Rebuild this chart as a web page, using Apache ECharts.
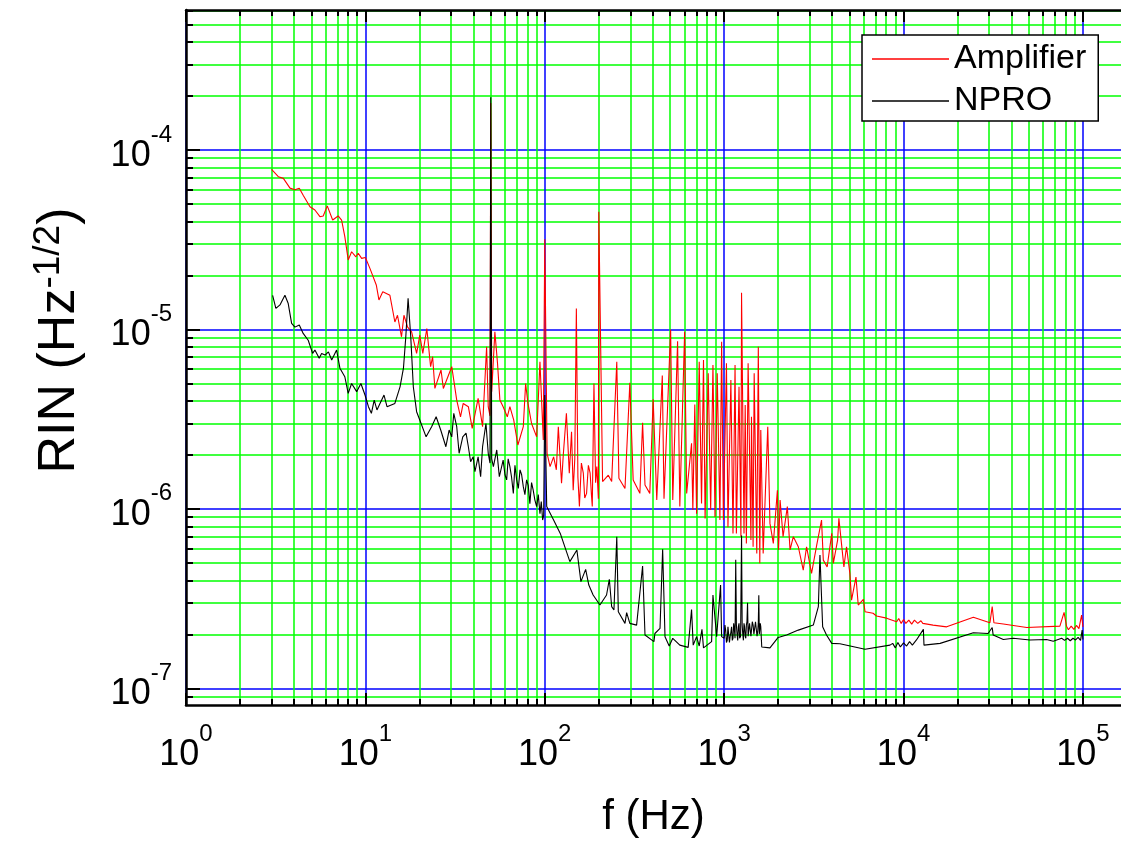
<!DOCTYPE html>
<html><head><meta charset="utf-8">
<script src="https://cdn.jsdelivr.net/npm/echarts@6/dist/echarts.min.js"></script>
<style>html,body{margin:0;padding:0;background:#fff}#c{width:1121px;height:842px}</style>
</head><body><div id="c"></div>
<script>
// ---------------- data ----------------
const xMajorTicks = [1, 10, 100, 1000, 10000, 100000];
const xMinorTicks = [2,3,4,5,6,7,8,9, 20,30,40,50,60,70,80,90, 200,300,400,500,600,700,800,900,
  2000,3000,4000,5000,6000,7000,8000,9000, 20000,30000,40000,50000,60000,70000,80000,90000];
const yMajorTicks = [1e-7, 1e-6, 1e-5, 1e-4];
const yMinorTicks = [9e-8, 2e-7,3e-7,4e-7,5e-7,6e-7,7e-7,8e-7,9e-7, 2e-6,3e-6,4e-6,5e-6,6e-6,7e-6,8e-6,9e-6,
  2e-5,3e-5,4e-5,5e-5,6e-5,7e-5,8e-5,9e-5, 2e-4,3e-4,4e-4,5e-4,6e-4];
const seriesNames = ['Amplifier', 'NPRO'];

const ampFreq = [3.0,3.27,3.49,3.8,4.05,4.28,4.5,4.91,5.23,5.58,5.82,6.13,6.57,7.05,7.37,7.68,8.02,8.38,8.85,9.12,9.53,
  10.0,10.6,11.5,11.9,12.5,13.7,14.6,15.1,15.9,16.4,17.2,18.1,19.3,20.1,20.9,22.0,23.1,23.7,24.4,26.4,27.2,30.3,32.3,33.9,35.1,37.5,39.4,42.5,45.0,47.4,48.4,49.5,
  50.0,50.6,52.7,54.5,56.2,58.6,61.8,63.9,67.1,70.8,75.9,78.2,80.6,84.4,90.1,94.0,98.1,
  100,103,107,112,116,119,124,127,132,137,141,144,147,150,153,156,160,164,167,171,175,179,182,184,188,192,195,199,
  200,210,226,236,252,259,280,298,311,339,351,362,385,402,421,452,462,503,517,550,566,602,618,658,669,686,702,726,748,767,783,815,841,866,889,915,947,968,990,
  1030,1050,1090,1120,1150,1170,1210,1240,1250,1290,1310,1330,1360,1410,1420,1450,1470,1520,1550,1580,1600,1650,1750,1800,1880,1980,2010,2050,2130,2250,2330,2430,2590,2760,2880,3070,3280,3490,3570,3750,3980,4060,4290,4360,4460,4650,4810,5020,5130,5430,5590,5970,6100,6760,7070,8040,9150,9400,9700,
  10000,10300,10700,11100,11500,12000,12500,12800,14600,17400,24500,30300,31200,31900,36000,48600,74400,78500,81000,83000,86000,89000,92000,95000,98300,100000];
const ampRIN = [7.8e-5,7.1e-5,6.95e-5,6.13e-5,6.0e-5,6.13e-5,5.6e-5,4.83e-5,4.63e-5,4.25e-5,4.29e-5,4.88e-5,4.07e-5,4.29e-5,4.07e-5,3.29e-5,2.44e-5,2.71e-5,2.54e-5,2.66e-5,2.49e-5,
  2.52e-5,2.19e-5,1.77e-5,1.46e-5,1.62e-5,1.55e-5,1.10e-5,1.20e-5,9.1e-6,1.20e-5,1.03e-5,9.7e-6,7.35e-6,9.3e-6,7.35e-6,1.01e-5,6.2e-6,7.05e-6,4.69e-6,5.94e-6,4.69e-6,6.2e-6,4.04e-6,3.26e-6,3.87e-6,3.71e-6,2.81e-6,4.13e-6,2.87e-6,8.0e-6,3.71e-6,3.3e-6,
  1.83e-4,4.5e-6,9.7e-6,6.5e-6,4.04e-6,3.71e-6,3.26e-6,3.71e-6,3.13e-6,2.27e-6,2.87e-6,5.0e-6,3.87e-6,2.99e-6,2.52e-6,6.6e-6,2.42e-6,
  3.18e-5,2.04e-6,1.72e-6,1.95e-6,1.65e-6,2.87e-6,1.39e-6,2.04e-6,3.41e-6,1.58e-6,2.69e-6,1.27e-6,1.9e-6,1.31e-5,1.5e-6,1.03e-6,1.8e-6,1.58e-6,1.15e-6,1.22e-6,1.75e-6,1.58e-6,1.2e-6,1.03e-6,5.0e-6,1.4e-6,1.72e-6,1.14e-6,
  4.53e-5,1.42e-6,1.54e-6,1.42e-6,6.6e-6,1.48e-6,1.30e-6,5.04e-6,1.45e-6,1.22e-6,3.02e-6,1.36e-6,1.22e-6,4.08e-6,1.12e-6,5.53e-6,1.14e-6,1.0e-5,1.12e-6,8.6e-6,1.03e-6,9.7e-6,1.22e-6,2.32e-6,9.85e-7,3.82e-6,9.4e-7,6.6e-6,1.07e-6,6.76e-6,8.85e-7,5.7e-6,9.85e-7,6.33e-6,9.0e-7,5.7e-6,8.66e-7,8.53e-6,8.66e-7,
  6.47e-6,7.9e-7,5.23e-6,7.3e-7,6.33e-6,7.3e-7,4.79e-6,7.0e-7,1.6e-5,7.3e-7,3.79e-6,6.42e-7,6.47e-6,6.7e-7,3.26e-6,6.15e-7,5.7e-6,5.64e-7,8.0e-6,4.97e-7,2.75e-6,5.64e-7,2.87e-6,8.3e-7,6.42e-7,1.27e-6,5.9e-7,1.12e-6,7.0e-7,1.03e-6,5.9e-7,7.0e-7,6.15e-7,4.56e-7,6.15e-7,4.37e-7,6.28e-7,8.66e-7,5.18e-7,4.75e-7,7.3e-7,4.97e-7,6.7e-7,8.85e-7,8.98e-7,4.75e-7,6.15e-7,4.37e-7,3.1e-7,4.17e-7,2.91e-7,3.13e-7,2.67e-7,2.62e-7,2.53e-7,2.46e-7,2.35e-7,2.45e-7,2.3e-7,
  2.42e-7,2.3e-7,2.4e-7,2.28e-7,2.4e-7,2.3e-7,2.38e-7,2.3e-7,2.25e-7,2.2e-7,2.49e-7,2.32e-7,2.85e-7,2.32e-7,2.28e-7,2.18e-7,2.22e-7,2.65e-7,2.22e-7,2.12e-7,2.22e-7,2.13e-7,2.24e-7,2.15e-7,2.56e-7,2.2e-7];

const nproFreq = [3.04,3.17,3.34,3.56,3.71,3.88,4.05,4.28,4.5,4.8,5.08,5.23,5.53,5.7,5.96,6.22,6.49,6.91,7.21,7.68,8.02,8.38,8.94,9.44,9.95,
  10.4,10.8,11.2,11.6,12.7,13.2,14.6,15.6,16.3,16.8,17.3,17.9,18.5,19.3,20.1,21.8,23.4,24.8,26.3,28.1,29.3,30.3,31.1,32.3,33.3,34.9,36.4,37.5,38.6,39.9,40.8,42.5,43.9,45.0,47.0,48.4,49.5,
  50.0,50.6,51.7,54.0,55.8,58.6,60.0,61.3,62.5,63.9,65.3,66.8,68.2,69.7,71.2,72.8,74.3,75.9,77.5,79.2,80.9,82.6,84.4,86.2,88.1,90.1,92.0,94.0,95.6,97.3,98.6,
  100,102.5,112,122,138,151,159,169,176,186,203,221,229,236,243,252,257,280,286,298,325,351,362,406,411,439,454,468,494,517,566,630,658,672,702,726,752,767,851,866,908,955,968,
  1000,1010,1020,1030,1040,1050,1060,1070,1080,1090,1100,1110,1120,1130,1140,1150,1160,1170,1180,1190,1200,1210,1220,1235,1250,1260,1270,1280,1290,1300,1310,1320,1330,1340,1350,1360,1370,1385,1400,1410,1420,1435,1450,1465,1480,1495,1510,1525,1540,1550,1560,1570,1580,1590,1600,1620,
  1800,2000,2230,2590,3140,3350,3420,3540,3720,3980,4420,6100,8400,8700,9000,9300,9600,
  10000,10400,10800,11200,11800,12900,13000,16000,24500,29600,31200,31600,36000,40900,50600,62700,68300,76100,79000,82000,85000,88000,91000,94000,97000,99000,100000];
const nproRIN = [1.55e-5,1.31e-5,1.37e-5,1.55e-5,1.40e-5,1.08e-5,1.03e-5,1.06e-5,9.5e-6,8.7e-6,7.35e-6,7.68e-6,6.9e-6,7.35e-6,7.2e-6,7.5e-6,6.76e-6,7.68e-6,6.08e-6,5.45e-6,4.4e-6,5.0e-6,4.5e-6,5.0e-6,4.31e-6,
  3.71e-6,3.41e-6,4.04e-6,3.56e-6,4.31e-6,3.71e-6,3.87e-6,4.79e-6,6.08e-6,9.1e-6,1.49e-5,9.1e-6,4.79e-6,3.48e-6,3.13e-6,2.52e-6,2.87e-6,3.26e-6,2.75e-6,2.22e-6,2.75e-6,2.52e-6,3.41e-6,2.87e-6,2.04e-6,2.52e-6,2.64e-6,2.22e-6,1.83e-6,1.95e-6,1.61e-6,1.95e-6,1.51e-6,2.22e-6,2.99e-6,2.04e-6,1.8e-6,
  1.97e-4,1.9e-6,1.72e-6,2.13e-6,1.51e-6,1.87e-6,1.55e-6,1.45e-6,1.9e-6,1.72e-6,1.5e-6,1.22e-6,1.75e-6,1.45e-6,1.3e-6,1.65e-6,1.55e-6,1.33e-6,1.2e-6,1.45e-6,1.35e-6,1.07e-6,1.4e-6,1.27e-6,1.12e-6,1.03e-6,1.2e-6,9.4e-7,1.1e-6,8.66e-7,9.2e-7,
  4.31e-6,1.03e-6,8.66e-7,7.3e-7,5.08e-7,5.9e-7,3.93e-7,4.6e-7,3.76e-7,3.31e-7,2.91e-7,3.31e-7,4.05e-7,2.85e-7,2.73e-7,7.0e-7,2.67e-7,2.3e-7,2.64e-7,2.3e-7,2.25e-7,4.8e-7,1.98e-7,1.82e-7,2.02e-7,2.16e-7,5.95e-7,1.94e-7,1.72e-7,1.9e-7,1.74e-7,1.69e-7,2.75e-7,1.74e-7,1.94e-7,1.72e-7,2.13e-7,1.68e-7,1.82e-7,3.31e-7,1.94e-7,3.76e-7,1.94e-7,
  1.9e-7,2.25e-7,2.1e-7,1.8e-7,1.85e-7,2.2e-7,2.15e-7,1.8e-7,1.95e-7,2.05e-7,2.2e-7,1.85e-7,1.9e-7,2.3e-7,2.15e-7,1.9e-7,5.2e-7,2.25e-7,2.0e-7,1.85e-7,2.2e-7,2.3e-7,1.9e-7,1.95e-7,7.1e-7,2.25e-7,2.0e-7,1.85e-7,2.3e-7,2.2e-7,1.95e-7,1.9e-7,2.25e-7,2.35e-7,3.0e-7,1.95e-7,2.0e-7,2.3e-7,2.3e-7,1.95e-7,2.0e-7,2.35e-7,2.25e-7,2.0e-7,2.05e-7,2.35e-7,2.3e-7,1.95e-7,2.1e-7,2.3e-7,3.3e-7,2.0e-7,2.15e-7,2.3e-7,2.2e-7,1.7e-7,
  1.68e-7,1.92e-7,1.98e-7,2.11e-7,2.25e-7,2.85e-7,5.53e-7,2.2e-7,1.98e-7,1.78e-7,1.77e-7,1.65e-7,1.74e-7,1.78e-7,1.68e-7,1.8e-7,1.7e-7,
  1.79e-7,1.72e-7,1.82e-7,1.74e-7,1.86e-7,2.13e-7,1.74e-7,1.78e-7,2.04e-7,2.02e-7,2.18e-7,1.98e-7,1.87e-7,1.9e-7,1.86e-7,1.87e-7,1.83e-7,1.9e-7,1.85e-7,1.9e-7,1.84e-7,1.9e-7,1.86e-7,1.92e-7,1.85e-7,2.11e-7,1.87e-7];

// ---------------- chart ----------------
const FONT = '"Liberation Sans", Arial, sans-serif';
const X_MIN = 1, X_MAX = 1.63e5, Y_MIN = 8.07e-8, Y_MAX = 6.03e-4;
const GRID = {left: 186, top: 10, right: 0, bottom: 137, outerBoundsMode: 'none', containLabel: false};
const expFmt = v => '{b|10}{e|' + Math.round(Math.log10(v)) + '}';
const lblRich = {
  b: {fontSize: 36, fontFamily: FONT, color: '#000', padding: [12, 0, 0, 0]},
  e: {fontSize: 24, fontFamily: FONT, color: '#000', padding: [0, 0, 30, 0]}
};
const noExtra = {minorTick: {show: false}, minorSplitLine: {show: false}, splitArea: {show: false}};

function logAxis(kind, extra) {
  const isX = kind === 'x';
  return Object.assign({
    type: 'log', logBase: 10,
    min: isX ? X_MIN : Y_MIN, max: isX ? X_MAX : Y_MAX,
    silent: true, nameMoveOverlap: false
  }, noExtra, extra);
}

const chart = echarts.init(document.getElementById('c'));
chart.setOption({
  animation: false,
  backgroundColor: '#fff',
  grid: [Object.assign({}, GRID), Object.assign({}, GRID)],
  legend: {
    data: seriesNames, orient: 'vertical', left: 862, top: 35,
    backgroundColor: '#fff', borderColor: '#000', borderWidth: 1.5, borderRadius: 0,
    padding: [5, 12, 1, 10], itemGap: 4, itemWidth: 77, itemHeight: 1.3, icon: 'rect',
    textStyle: {fontSize: 34, fontFamily: FONT, color: '#000', lineHeight: 38},
    selectedMode: false, z: 20
  },
  xAxis: [
    logAxis('x', {gridIndex: 0, position: 'bottom',
      axisLine: {show: true, lineStyle: {color: '#000', width: 2.5}},
      axisTick: {show: true, inside: true, length: 12, customValues: xMajorTicks, lineStyle: {color: '#000', width: 2}},
      axisLabel: {show: true, customValues: xMajorTicks, formatter: expFmt, rich: lblRich, margin: 17},
      splitLine: {show: true, lineStyle: {color: '#0000ff', width: 1.5}},
      name: 'f (Hz)', nameLocation: 'middle', nameGap: 91,
      nameTextStyle: {fontSize: 42, fontFamily: FONT, color: '#000'}}),
    logAxis('x', {gridIndex: 0, position: 'top',
      axisLine: {show: true, lineStyle: {color: '#000', width: 2.5}},
      axisTick: {show: true, inside: true, length: 12, customValues: xMajorTicks, lineStyle: {color: '#000', width: 2}},
      axisLabel: {show: false}, splitLine: {show: false}}),
    logAxis('x', {gridIndex: 1, position: 'bottom',
      axisLine: {show: false},
      axisTick: {show: true, inside: true, length: 6, customValues: xMinorTicks, lineStyle: {color: '#000', width: 2}},
      axisLabel: {show: false},
      splitLine: {show: true, lineStyle: {color: '#00ff00', width: 1.5}}}),
    logAxis('x', {gridIndex: 1, position: 'top',
      axisLine: {show: false},
      axisTick: {show: true, inside: true, length: 6, customValues: xMinorTicks, lineStyle: {color: '#000', width: 2}},
      axisLabel: {show: false}, splitLine: {show: false}})
  ],
  yAxis: [
    logAxis('y', {gridIndex: 0, position: 'left',
      axisLine: {show: true, lineStyle: {color: '#000', width: 2.5}},
      axisTick: {show: true, inside: true, length: 14, customValues: yMajorTicks, lineStyle: {color: '#000', width: 2}},
      axisLabel: {show: true, customValues: yMajorTicks, formatter: expFmt, rich: lblRich, margin: 14},
      splitLine: {show: true, lineStyle: {color: '#0000ff', width: 1.5}},
      name: '{b|RIN (Hz}{e|-1/2}{b|)}', nameLocation: 'middle', nameGap: 97, nameRotate: 90,
      nameTextStyle: {padding: [0, 0, 0, 34], rich: {
        b: {fontSize: 52, fontFamily: FONT, color: '#000'},
        e: {fontSize: 37, fontFamily: FONT, color: '#000', padding: [0, 0, 22, 0]}
      }}}),
    logAxis('y', {gridIndex: 1, position: 'left',
      axisLine: {show: false},
      axisTick: {show: true, inside: true, length: 7, customValues: yMinorTicks, lineStyle: {color: '#000', width: 2}},
      axisLabel: {show: false},
      splitLine: {show: true, lineStyle: {color: '#00ff00', width: 1.5}}})
  ],
  series: [
    {type: 'line', name: seriesNames[0], xAxisIndex: 0, yAxisIndex: 0,
     data: ampFreq.map((f, i) => [f, ampRIN[i]]),
     symbol: 'none', showSymbol: false, lineStyle: {color: '#ff0000', width: 1.1}, itemStyle: {color: '#ff0000'}, z: 3},
    {type: 'line', name: seriesNames[1], xAxisIndex: 0, yAxisIndex: 0,
     data: nproFreq.map((f, i) => [f, nproRIN[i]]),
     symbol: 'none', showSymbol: false, lineStyle: {color: '#000000', width: 1.1}, itemStyle: {color: '#000000'}, z: 4}
  ]
});
</script></body></html>
